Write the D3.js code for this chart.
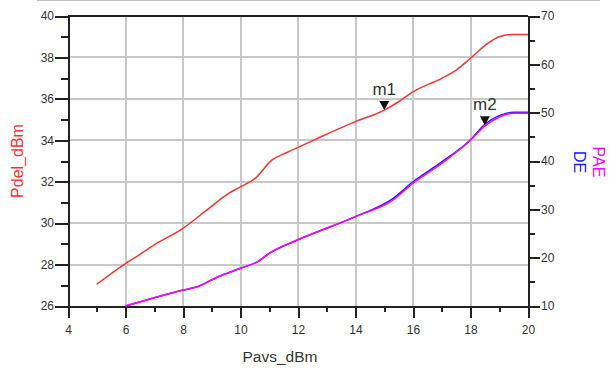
<!DOCTYPE html>
<meta charset="utf-8">
<style>
body { margin: 0; background: #fff; }
svg { display: block; font-family: "Liberation Sans", Arial, sans-serif; }
.axis path, .axis line { stroke: #222; stroke-width: 2; shape-rendering: crispEdges; }
.axis text { font-size: 12px; fill: #333; }
.grid line { stroke: #c8c8c8; stroke-width: 2; shape-rendering: crispEdges; }
</style>
<body>
<svg width="609" height="368"></svg>
<script src="https://cdn.jsdelivr.net/npm/d3@7"></script>
<script>

// Pout vs Pavs
var pdelX = [5, 6, 6.4, 7, 8, 8.8, 9.6, 10, 10.5, 11.1, 11.6, 12.1, 12.8, 14, 15, 15.5, 16, 17, 17.5, 18, 18.6, 19, 19.5, 20];
var pdel  = [27.05, 28.05, 28.4, 28.95, 29.75, 30.6, 31.45, 31.75, 32.15, 33.05, 33.4, 33.72, 34.17, 34.9, 35.46, 35.86, 36.34, 36.99, 37.39, 37.96, 38.68, 39.0, 39.11, 39.11];

// efficiency, right axis
var effX = [6, 7, 8, 8.5, 9.2, 10, 10.6, 11, 12, 14, 15.3, 16, 17, 18, 18.5, 19, 19.5, 20];
var pae  = [10, 11.7, 13.3, 14, 16, 17.8, 19.2, 20.9, 23.7, 28.5, 31.9, 35.4, 39.5, 44.3, 47.2, 49.1, 49.9, 49.9];
var de   = [10, 11.7, 13.3, 14, 16, 17.8, 19.2, 20.9, 23.7, 28.5, 32.2, 35.7, 39.8, 44.4, 47.6, 49.4, 50.1, 50.1];

var xTicks = [4, 6, 8, 10, 12, 14, 16, 18, 20];
var xMinor = [5, 7, 9, 11, 13, 15, 17, 19];
var yTicks = [26, 28, 30, 32, 34, 36, 38, 40];
var yMinor = [27, 29, 31, 33, 35, 37, 39];
var y2Ticks = [10, 20, 30, 40, 50, 60, 70];
var y2Minor = [15, 25, 35, 45, 55, 65];

var markers = [
  { name: "m1", x: 15, y: 35.46, axis: "left" },
  { name: "m2", x: 18.5, y: 47.4, axis: "right" }
];

var svg = d3.select("svg");
var plotL = 68, plotR = 528, plotT = 16, plotB = 306;

var x = d3.scaleLinear().domain([4, 20]).range([plotL, plotR]);
var y = d3.scaleLinear().domain([26, 40]).range([plotB, plotT]);
var y2 = d3.scaleLinear().domain([10, 70]).range([plotB, plotT]);

// page frame line at top
svg.append("line")
    .attr("x1", 37).attr("x2", 600).attr("y1", 0.5).attr("y2", 0.5)
    .attr("stroke", "#c0c0c0");

// grid
var grid = svg.append("g").attr("class", "grid");
grid.selectAll(".gx").data(xTicks.slice(1, -1)).enter().append("line")
    .attr("x1", x).attr("x2", x).attr("y1", plotT).attr("y2", plotB);
grid.selectAll(".gy").data(yTicks.slice(1, -1)).enter().append("line")
    .attr("x1", plotL).attr("x2", plotR)
    .attr("y1", function(d) { return y(d); }).attr("y2", function(d) { return y(d); });

// axes
svg.append("g").attr("class", "axis")
    .attr("transform", "translate(0," + plotB + ")")
    .call(d3.axisBottom(x).tickValues(xMinor).tickSize(6).tickSizeOuter(0).tickFormat(""));
svg.append("g").attr("class", "axis")
    .attr("transform", "translate(0," + plotB + ")")
    .call(d3.axisBottom(x).tickValues(xTicks).tickSize(12).tickSizeOuter(0).tickPadding(7));

svg.append("g").attr("class", "axis")
    .attr("transform", "translate(" + plotL + ",0)")
    .call(d3.axisLeft(y).tickValues(yMinor).tickSize(7).tickSizeOuter(0).tickFormat(""));
svg.append("g").attr("class", "axis")
    .attr("transform", "translate(" + plotL + ",0)")
    .call(d3.axisLeft(y).tickValues(yTicks).tickSize(13).tickSizeOuter(0).tickPadding(1));

svg.append("g").attr("class", "axis")
    .attr("transform", "translate(" + plotR + ",0)")
    .call(d3.axisRight(y2).tickValues(y2Minor).tickSize(7).tickSizeOuter(0).tickFormat(""));
svg.append("g").attr("class", "axis")
    .attr("transform", "translate(" + plotR + ",0)")
    .call(d3.axisRight(y2).tickValues(y2Ticks).tickSize(12).tickSizeOuter(0).tickPadding(1));

// top frame
svg.append("line")
    .attr("x1", plotL).attr("x2", plotR).attr("y1", plotT).attr("y2", plotT)
    .attr("stroke", "#222").attr("stroke-width", 2).attr("shape-rendering", "crispEdges");

// curves
var lineL = d3.line()
    .x(function(d) { return x(d[0]); })
    .y(function(d) { return y(d[1]); })
    .curve(d3.curveMonotoneX);
var lineR = d3.line()
    .x(function(d) { return x(d[0]); })
    .y(function(d) { return y2(d[1]); })
    .curve(d3.curveMonotoneX);

svg.append("path")
    .datum(d3.zip(effX, de))
    .attr("fill", "none").attr("stroke", "#2020ff").attr("stroke-width", 1.5)
    .attr("d", lineR);
svg.append("path")
    .datum(d3.zip(effX, pae))
    .attr("fill", "none").attr("stroke", "#ff00ff").attr("stroke-width", 1.5)
    .attr("d", lineR);
svg.append("path")
    .datum(d3.zip(pdelX, pdel))
    .attr("fill", "none").attr("stroke", "#ff3030").attr("stroke-width", 1.5)
    .attr("d", lineL);

// markers
var mk = svg.selectAll(".marker").data(markers).enter().append("g")
    .attr("transform", function(d) {
      var py = d.axis == "left" ? y(d.y) : y2(d.y);
      return "translate(" + x(d.x) + "," + py + ")";
    });
mk.append("path")
    .attr("d", "M-5,-9L5,-9L0,0Z")
    .attr("fill", "#111");
mk.append("text")
    .attr("y", -15)
    .attr("text-anchor", "middle")
    .attr("font-size", 17)
    .attr("fill", "#333")
    .text(function(d) { return d.name; });

// axis titles
svg.append("text")
    .attr("x", 280)
    .attr("y", 362)
    .attr("text-anchor", "middle")
    .attr("font-size", 15.5)
    .attr("fill", "#333")
    .text("Pavs_dBm");

svg.append("text")
    .attr("transform", "translate(23,161) rotate(-90)")
    .attr("text-anchor", "middle")
    .attr("font-size", 16)
    .attr("fill", "#ff3030")
    .text("Pdel_dBm");

var r = svg.append("text")
    .attr("transform", "translate(593,162) rotate(90)")
    .attr("text-anchor", "middle")
    .attr("font-size", 16);
r.append("tspan").attr("x", 0).attr("dy", 0).attr("fill", "#ff00ff").text("PAE");
r.append("tspan").attr("x", 0).attr("dy", 19).attr("fill", "#2020ff").text("DE");

</script>
